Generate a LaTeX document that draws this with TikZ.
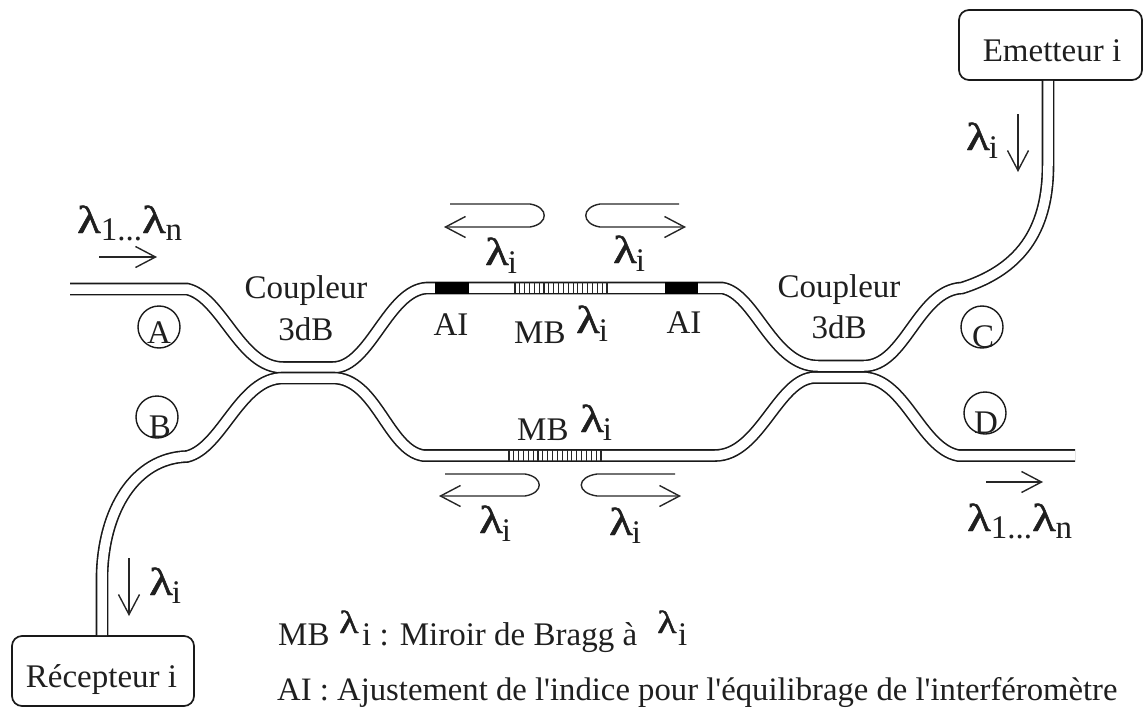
\documentclass[tikz,border=0pt]{standalone}
\usepackage{graphicx}
\usepackage{fontspec}
\setmainfont{Liberation Serif}
\newfontfamily\plainf{Liberation Serif}
\newfontfamily\lamf[FakeBold=1.2]{Liberation Serif}
\usetikzlibrary{arrows.meta}
\newcommand{\lamb}{\scalebox{1.25}[1]{\fontsize{39}{39}\selectfont\lamf λ}}
\newcommand{\lamsm}{\scalebox{1.25}[1]{\fontsize{32}{32}\selectfont\lamf λ}}
\newcommand{\lami}{\lamb\kern-1pt\raisebox{-8pt}{i}}
\newcommand{\lamrange}{\lamb\raisebox{-7pt}{1...}\lamb\raisebox{-7pt}{n}}
\tikzset{
  txt/.style={inner sep=0pt,anchor=base,text=black!88,font=\plainf\fontsize{33}{33}\selectfont},
  txtw/.style={txt,anchor=base west},
  guide/.style={draw=black!90,line width=1.6pt,double=white,double distance=9.5pt},
  boxn/.style={draw=black!90,line width=1.7pt,rounded corners=10pt,inner sep=0pt},
  circ/.style={draw=black!90,line width=1.4pt,circle,inner sep=0pt,minimum size=42pt},
  ray/.style={draw=black!85,line width=1.4pt,-{Straight Barb[length=20pt,width=21pt,line width=1.4pt]}},
  ai/.style={fill=black,draw=none},
  grat/.style={draw=black!85,line width=1.1pt}
}
\begin{document}
\begin{tikzpicture}[x=1pt,y=-1pt]
\useasboundingbox (0,0) rectangle (1144,709);
% boxes
\node[boxn,minimum width=183pt,minimum height=70pt] (em) at (1050.5,45) {};
\node[boxn,minimum width=182pt,minimum height=70pt] (rc) at (103,671) {};
\node[txt] (emt) at (1052,62) {Emetteur i};
\node[txt] (rct) at (101.5,687) {Récepteur i};
% guide points
\coordinate (inA) at (70,289);
\coordinate (a1) at (187,289);
\coordinate (c1ul) at (283,367.5);
\coordinate (c1ur) at (333,367.5);
\coordinate (c1ll) at (283,378);
\coordinate (c1lr) at (333,378);
\coordinate (t1) at (427,288);
\coordinate (t2) at (722,288);
\coordinate (l1) at (423,455.5);
\coordinate (l2) at (715,455.5);
\coordinate (c2ul) at (818,366);
\coordinate (c2ur) at (864,366);
\coordinate (c2ll) at (815,377.5);
\coordinate (c2lr) at (862,377.5);
\coordinate (r1) at (962,288);
\coordinate (d1) at (958,455.5);
\coordinate (outD) at (1075,455.5);
\coordinate (b1) at (187,456.5);
\coordinate (emv) at (1048,165);
\coordinate (emf) at (1048,81);
\coordinate (rcv) at (102,577);
\coordinate (rcf) at (102,635);
% guides
\draw[guide] (inA) -- (a1) .. controls (222,297) and (240,367.5) .. (c1ul) -- (c1ur)
  .. controls (370,367.5) and (388,290) .. (t1) -- (t2)
  .. controls (755,293) and (772,366) .. (c2ul) -- (c2ur)
  .. controls (905,366) and (918,290) .. (r1)
  .. controls (1025,268) and (1048,225) .. (emv) -- (emf);
\draw[guide] (rcf) -- (rcv) .. controls (103,510) and (135,458) .. (b1)
  .. controls (222,448) and (240,378) .. (c1ll) -- (c1lr)
  .. controls (376,378) and (388,450) .. (l1) -- (l2)
  .. controls (760,455.5) and (778,378) .. (c2ll) -- (c2lr)
  .. controls (905,377.5) and (920,448) .. (d1) -- (outD);
% adjustment sections
\fill[ai] (435,282) rectangle (469,294);
\fill[ai] (665,282) rectangle (698,294);
% Bragg gratings
\foreach \k in {0,...,19} {
  \draw[grat] ({515+\k*4.84},282) -- ({515+\k*4.84},293);
  \draw[grat] ({509+\k*4.84},450) -- ({509+\k*4.84},461);
}
% circles
\node[circ] (cA) at (159,327) {};
\node[circ] (cB) at (157,417) {};
\node[circ] (cC) at (982,327) {};
\node[circ] (cD) at (985,413) {};
\node[txt] (tA) at (159,343) {A};
\node[txt] (tB) at (160,437) {B};
\node[txt] (tC) at (983,347) {C};
\node[txt] (tD) at (986,433) {D};
% coupler labels
\node[txt] (k1) at (306,298) {Coupleur};
\node[txt] (k2) at (306,340) {3dB};
\node[txt] (k3) at (839,297) {Coupleur};
\node[txt] (k4) at (839,338) {3dB};
% AI, MB
\node[txt] (ai1) at (451,335) {AI};
\node[txt] (ai2) at (684,333) {AI};
\node[txtw] (mb1) at (514,343) {MB};
\node[txtw] (mb1l) at (576,333) {\lami};
\node[txtw] (mb2) at (517,440) {MB};
\node[txtw] (mb2l) at (580,432) {\lami};
% lambda labels
\node[txtw] (la1) at (485,265) {\lami};
\node[txtw] (la2) at (613,263) {\lami};
\node[txtw] (la3) at (479,533) {\lami};
\node[txtw] (la4) at (609,535) {\lami};
\node[txtw] (la5) at (966,150) {\lami};
\node[txtw] (la6) at (149,595) {\lami};
\node[txtw] (la7) at (77,233) {\lamrange};
\node[txtw] (la8) at (967,531) {\lamrange};
% straight rays
\coordinate (s1a) at (99,257); \coordinate (s1b) at (157,257);
\coordinate (s2a) at (986,482); \coordinate (s2b) at (1043,482);
\coordinate (s3a) at (1018,114); \coordinate (s3b) at (1018,172);
\coordinate (s4a) at (129,558); \coordinate (s4b) at (129,616);
\draw[ray] (s1a) -- (s1b);
\draw[ray] (s2a) -- (s2b);
\draw[ray] (s3a) -- (s3b);
\draw[ray] (s4a) -- (s4b);
% reflected rays
\coordinate (u1a) at (450,204); \coordinate (u1b) at (530,204); \coordinate (u1c) at (530,227); \coordinate (u1d) at (444,227);
\coordinate (u2a) at (679,204); \coordinate (u2b) at (600,204); \coordinate (u2c) at (600,227); \coordinate (u2d) at (686,227);
\coordinate (u3a) at (445,474); \coordinate (u3b) at (525,474); \coordinate (u3c) at (525,496); \coordinate (u3d) at (439,496);
\coordinate (u4a) at (675,474); \coordinate (u4b) at (597,474); \coordinate (u4c) at (597,496); \coordinate (u4d) at (681,496);
\draw[ray] (u1a) -- (u1b) .. controls (549,207) and (549,224) .. (u1c) -- (u1d);
\draw[ray] (u2a) -- (u2b) .. controls (581,207) and (581,224) .. (u2c) -- (u2d);
\draw[ray] (u3a) -- (u3b) .. controls (544,477) and (544,493) .. (u3c) -- (u3d);
\draw[ray] (u4a) -- (u4b) .. controls (576,477) and (576,493) .. (u4c) -- (u4d);
% legend
\node[txtw] (lg1) at (278,645) {MB};
\node[txtw] (lg2) at (339,633) {\lamsm};
\node[txtw] (lg3) at (362,645) {i : Miroir de Bragg à};
\node[txtw] (lg4) at (657,633) {\lamsm};
\node[txtw] (lg5) at (678,645) {i};
\node[txtw,font=\plainf\fontsize{32.7}{33}\selectfont] (lg6) at (277,700) {AI : Ajustement de l'indice pour l'équilibrage de l'interféromètre};
\end{tikzpicture}
\end{document}
